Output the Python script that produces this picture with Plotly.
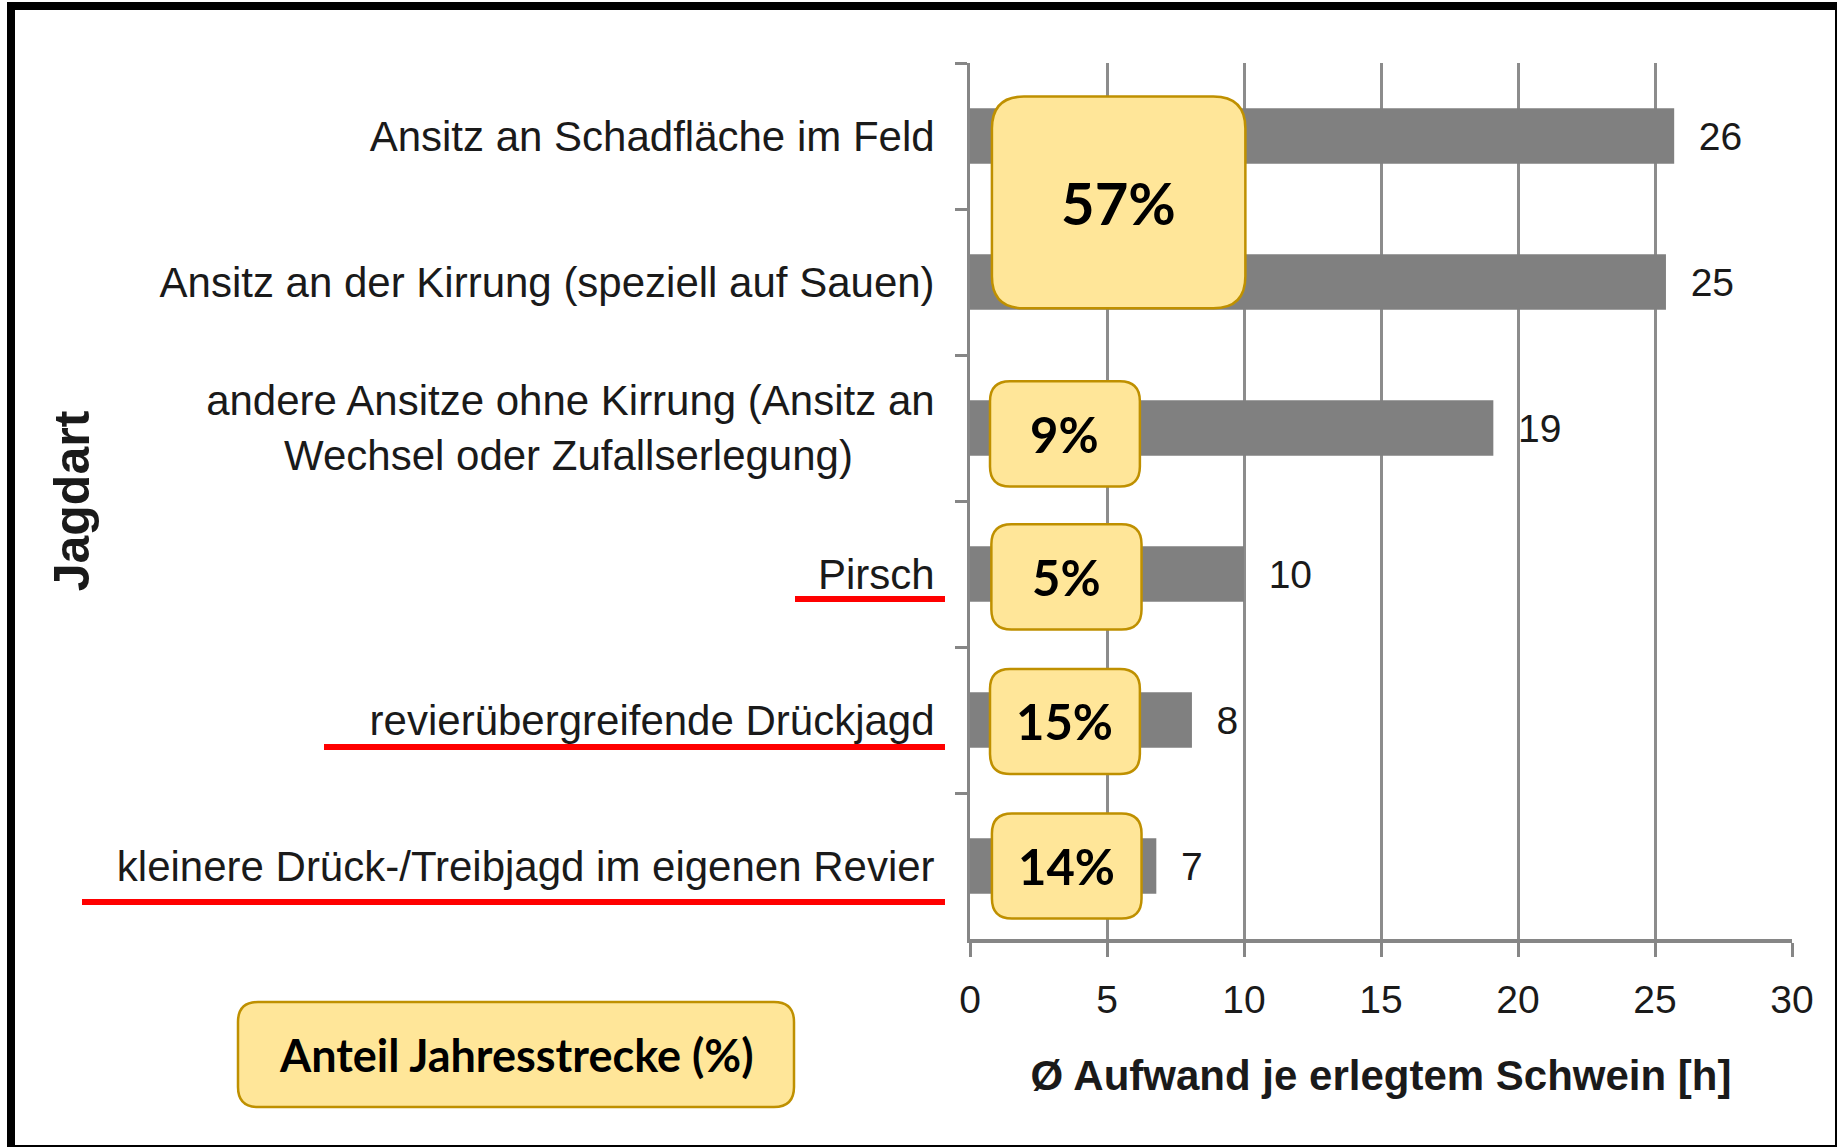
import plotly.graph_objects as go

# ---------------- data ----------------
categories = [
    "Ansitz an Schadfläche im Feld",
    "Ansitz an der Kirrung (speziell auf Sauen)",
    "andere Ansitze ohne Kirrung (Ansitz an<br>Wechsel oder Zufallserlegung)" + "\u00a0" * 7,
    "Pirsch",
    "revierübergreifende Drückjagd",
    "kleinere Drück-/Treibjagd im eigenen Revier",
]
aufwand_h = [25.7, 25.4, 19.1, 10.0, 8.1, 6.8]
aufwand_labels = ["26", "25", "19", "10", "8", "7"]
x_ticks = [0, 5, 10, 15, 20, 25, 30]

share_labels = ["57%", "9%", "5%", "15%", "14%"]
share_centers = [0.455, 2.04, 3.02, 4.01, 5.0]    # category index (centre of box)
share_halfheights = [0.725, 0.36, 0.36, 0.36, 0.36]
share_x0 = [0.8, 0.73, 0.78, 0.73, 0.8]
share_x1 = [10.05, 6.2, 6.26, 6.2, 6.26]
share_fontsize = [58, 49, 49, 49, 49]
share_radius = [32, 20, 20, 20, 20]

underlined = [3, 4, 5]
underline_left_px = [795, 324, 82]
underline_offset_px = [25, 27, 36]

legend_text = "Anteil Jahresstrecke (%)"

# ---------------- layout geometry ----------------
FW, FH = 1837, 1147
L, R, T, B = 970, 1792, 63, 939
PW, PH = R - L, B - T
XMAX = 30
NCAT = len(categories)


def xpx(v):
    return L + v / XMAX * PW


def ypx(i):
    return T + (i + 0.5) * PH / NCAT


def px2paper(x, y):
    return (x - L) / PW, 1 - (y - T) / PH


def rounded_path(x0, y0, x1, y1, r):
    def P(x, y):
        a, b = px2paper(x, y)
        return f"{a:.5f},{b:.5f}"
    d = (f"M {P(x0 + r, y0)} L {P(x1 - r, y0)} Q {P(x1, y0)} {P(x1, y0 + r)} "
         f"L {P(x1, y1 - r)} Q {P(x1, y1)} {P(x1 - r, y1)} "
         f"L {P(x0 + r, y1)} Q {P(x0, y1)} {P(x0, y1 - r)} "
         f"L {P(x0, y0 + r)} Q {P(x0, y0)} {P(x0 + r, y0)} Z")
    return d


BOX_FILL = "#FFE699"
BOX_LINE = "#BF9000"
GRID = "#8C8C8C"
SANS = "Liberation Sans, Arial, sans-serif"
BOXFONT = "Lato, Open Sans, sans-serif"

fig = go.Figure()
fig.add_trace(go.Bar(
    y=categories,
    x=aufwand_h,
    orientation="h",
    width=0.38,
    marker=dict(color="#808080", line=dict(width=0)),
    text=["\u00a0\u00a0" + t for t in aufwand_labels],
    textposition="outside",
    textfont=dict(family=SANS, size=39, color="#1a1a1a"),
    cliponaxis=False,
    hoverinfo="skip",
))

shapes = []
annotations = []

# yellow share boxes
for lab, c, hh, x0, x1, fs, r in zip(share_labels, share_centers, share_halfheights,
                                      share_x0, share_x1, share_fontsize, share_radius):
    px0, px1 = xpx(x0), xpx(x1)
    py0, py1 = ypx(c - hh), ypx(c + hh)
    shapes.append(dict(type="path", xref="paper", yref="paper",
                       path=rounded_path(px0, py0, px1, py1, r),
                       fillcolor=BOX_FILL, line=dict(color=BOX_LINE, width=2.5),
                       layer="above"))
    ax, ay = px2paper((px0 + px1) / 2, (py0 + py1) / 2)
    annotations.append(dict(text=f"<b>{lab}</b>", x=ax, y=ay, xref="paper", yref="paper",
                            showarrow=False, xanchor="center", yanchor="middle",
                            font=dict(family=BOXFONT, size=fs, color="black")))

# legend-like box
lx0, ly0, lx1, ly1 = 238, 1002, 794, 1107
shapes.append(dict(type="path", xref="paper", yref="paper",
                   path=rounded_path(lx0, ly0, lx1, ly1, 20),
                   fillcolor=BOX_FILL, line=dict(color=BOX_LINE, width=2.5), layer="above"))
ax, ay = px2paper((lx0 + lx1) / 2, (ly0 + ly1) / 2)
annotations.append(dict(text=f"<b>{legend_text}</b>", x=ax, y=ay, xref="paper", yref="paper",
                        showarrow=False, xanchor="center", yanchor="middle",
                        font=dict(family=BOXFONT, size=45, color="black")))

# red underlines
for i, left, off in zip(underlined, underline_left_px, underline_offset_px):
    yy = ypx(i) + off
    a0, b0 = px2paper(left, yy)
    a1, _ = px2paper(945, yy)
    shapes.append(dict(type="line", xref="paper", yref="paper", x0=a0, x1=a1, y0=b0, y1=b0,
                       line=dict(color="#FF0000", width=6), layer="above"))

# outer black frame
f0 = px2paper(11, 6)
f1 = px2paper(1839, 1149)
shapes.append(dict(type="rect", xref="paper", yref="paper", x0=f0[0], y0=f0[1], x1=f1[0], y1=f1[1],
                   line=dict(color="black", width=8), fillcolor="rgba(0,0,0,0)", layer="above"))

fig.update_layout(
    width=FW, height=FH,
    margin=dict(l=L, r=FW - R, t=T, b=FH - B, pad=0),
    paper_bgcolor="white", plot_bgcolor="white",
    showlegend=False,
    shapes=shapes,
    annotations=annotations,
    xaxis=dict(
        range=[0, XMAX], tickvals=x_ticks, ticktext=[str(v) for v in x_ticks],
        showgrid=True, gridcolor=GRID, gridwidth=2.5,
        showline=True, linecolor="#868686", linewidth=3.5,
        ticks="outside", ticklen=14, tickwidth=3, tickcolor="#868686",
        ticklabelstandoff=9,
        tickfont=dict(family=SANS, size=39, color="#1a1a1a"),
        zeroline=False, fixedrange=True,
        title=dict(text="<b>Ø Aufwand je erlegtem Schwein [h]</b>", standoff=42,
                   font=dict(family=SANS, size=42, color="#1a1a1a")),
    ),
    yaxis=dict(
        type="category", categoryorder="array", categoryarray=categories,
        autorange="reversed",
        showgrid=False, zeroline=False,
        showline=True, linecolor="#868686", linewidth=3,
        ticks="outside", tickson="boundaries", ticklen=12, tickwidth=3, tickcolor="#868686",
        ticklabelstandoff=24,
        tickfont=dict(family=SANS, size=42, color="#1a1a1a"),
        fixedrange=True,
        title=dict(text="<b>Jagdart</b>", standoff=12,
                   font=dict(family=SANS, size=50, color="#1a1a1a")),
    ),
    font=dict(family=SANS),
)

fig.write_html("out.html")
